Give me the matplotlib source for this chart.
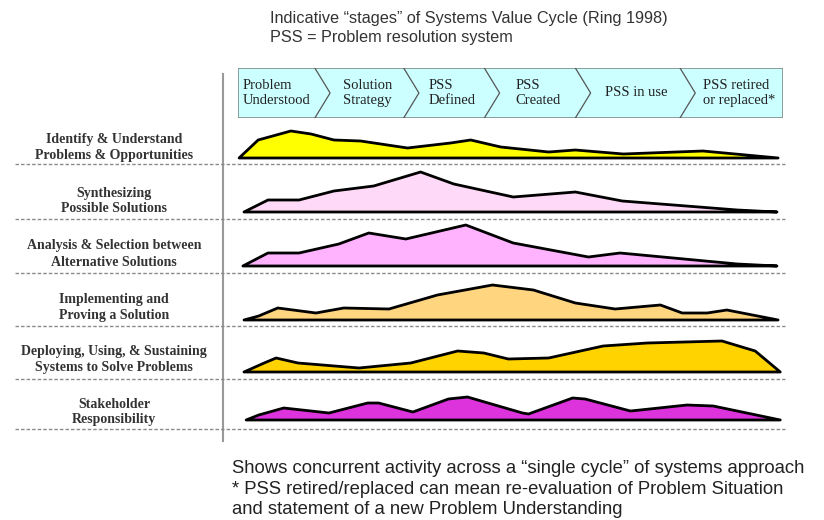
import matplotlib.pyplot as plt
from matplotlib.patches import Rectangle

# stages of the systems value cycle (timeline runs 0..100 across the banner)
stage_names = ['Problem\nUnderstood', 'Solution\nStrategy', 'PSS\nDefined',
               'PSS\nCreated', 'PSS in use', 'PSS retired\nor replaced*']
stage_bounds = [0, 14.1, 30.4, 45.2, 61.9, 81.1, 100]

# activities (rows) and their effort profiles over the cycle
activities = ['Identify & Understand\nProblems & Opportunities',
              'Synthesizing\nPossible Solutions',
              'Analysis & Selection between\nAlternative Solutions',
              'Implementing and\nProving a Solution',
              'Deploying, Using, & Sustaining\nSystems to Solve Problems',
              'Stakeholder\nResponsibility']
colors = ['#ffff00', '#ffd9f8', '#ffb3ff', '#ffd580', '#ffd300', '#dd33dd']

t1 = [0.2, 3.7, 9.7, 13.4, 17.6, 22.5, 31.1, 39.0, 42.7, 48.2, 57.0, 61.9, 70.7, 85.3, 99.1]
h1 = [0, 18, 27, 24, 18, 17, 10, 15, 18, 11, 6, 8, 4, 7, 0]
t2 = [1.1, 5.5, 11.2, 17.6, 24.9, 33.5, 39.6, 50.5, 61.9, 70.5, 91.6, 98.9]
h2 = [0, 12, 12, 21, 26, 40, 28, 15, 20, 11, 2, 0]
t3 = [0.9, 5.5, 11.2, 18.5, 24.0, 30.8, 41.8, 50.5, 64.3, 70.1, 91.6, 98.9]
h3 = [0, 13, 13, 22, 33, 27, 41, 23, 9, 13, 2, 0]
t4 = [1.1, 3.8, 7.3, 14.3, 19.4, 27.7, 36.6, 46.7, 54.2, 61.9, 69.2, 77.5, 81.5, 86.1, 89.7, 99.1]
h4 = [0, 4, 12, 7, 12, 11, 25, 35, 30, 17, 11, 15, 7, 7, 10, 0]
t5 = [1.1, 4.8, 7.0, 11.0, 22.2, 31.7, 40.3, 45.1, 49.6, 57.0, 67.0, 75.1, 88.8, 94.9, 99.5]
h5 = [0, 9, 14, 9, 4, 9, 21, 19, 13, 14, 26, 29, 31, 21, 0]
t6 = [1.5, 3.8, 8.4, 16.7, 23.8, 25.8, 32.1, 38.6, 42.1, 52.2, 53.3, 61.4, 63.7, 72.0, 73.8, 82.4, 87.2, 99.5]
h6 = [0, 5, 12, 7, 17, 17, 8, 21, 23, 7, 6, 22, 21, 9, 10, 15, 14, 0]
profiles = [(t1, h1), (t2, h2), (t3, h3), (t4, h4), (t5, h5), (t6, h6)]

title_lines = 'Indicative \u201cstages\u201d of Systems Value Cycle (Ring 1998)\nPSS = Problem resolution system'
note_lines = ('Shows concurrent activity across a \u201csingle cycle\u201d of systems approach\n'
              '* PSS retired/replaced can mean re-evaluation of Problem Situation\n'
              'and statement of a new Problem Understanding')

W, H = 824, 520
fig = plt.figure(figsize=(W / 100, H / 100), dpi=100)

# page axes in pixel units, for text and rules
page = fig.add_axes([0, 0, 1, 1])
page.set_xlim(0, W)
page.set_ylim(H, 0)
page.axis('off')

serif = 'Liberation Serif'
sans = 'Liberation Sans'

page.text(270, 11, title_lines, ha='left', va='top', fontsize=11.7,
          family=sans, color='#333333', linespacing=1.33)
page.text(232, 460, note_lines, ha='left', va='top', fontsize=13.3,
          family=sans, color='#222222', linespacing=1.28)

# vertical divider
page.plot([223, 223], [74, 441], color='#999999', lw=1.5)

# banner with chevrons
bx0, bx1, by0, by1 = 238, 783, 68, 118
banner = fig.add_axes([bx0 / W, 1 - by1 / H, (bx1 - bx0) / W, (by1 - by0) / H])
banner.set_xlim(0, 100)
banner.set_ylim(0, 1)
banner.axis('off')
banner.add_patch(Rectangle((0, 0), 100, 1, facecolor='#ccffff',
                           edgecolor='#7f8c8c', lw=1.2))
tip = 2.8
for b in stage_bounds[1:-1]:
    banner.plot([b, b + tip, b], [1, 0.5, 0], color='#555555', lw=0.9)
for i, name in enumerate(stage_names):
    lo, hi = stage_bounds[i], stage_bounds[i + 1]
    cx = (lo + hi) / 2 + (1.5 if i > 0 else 0)
    banner.text(cx, 0.5, name, ha='center', va='center', fontsize=10.5,
                family=serif, color='#222222', linespacing=1.16,
                multialignment='left')

# activity rows
baselines = [158, 212, 266, 320, 372, 420]
dashes = [164, 219, 273, 326, 379, 429]
label_y = [148, 201, 254, 307, 360, 412]
rh = 50
for i in range(len(activities)):
    page.text(114, label_y[i], activities[i], ha='center', va='center',
              fontsize=10, family=serif, fontweight='bold', color='#333333',
              linespacing=1.3)
    page.plot([15, 785], [dashes[i], dashes[i]], color='#8a8a8a', lw=1,
              ls=(0, (2.5, 1.5)))
    ax = fig.add_axes([bx0 / W, 1 - baselines[i] / H, (bx1 - bx0) / W, rh / H])
    ax.set_xlim(0, 100)
    ax.set_ylim(0, rh)
    ax.axis('off')
    t, h = profiles[i]
    ax.fill(t, h, facecolor=colors[i], edgecolor='black', lw=2,
            joinstyle='round', clip_on=False)

fig.savefig('out.png', dpi=100)
